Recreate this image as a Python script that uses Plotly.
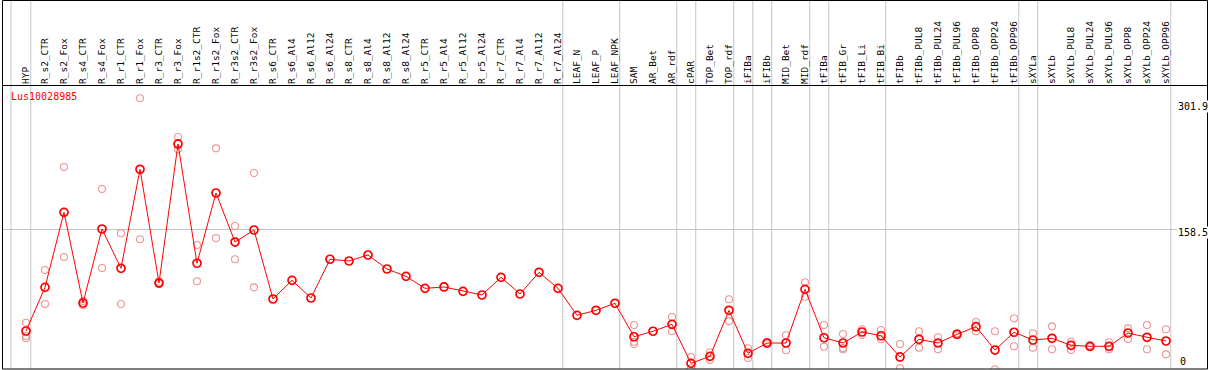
import plotly.graph_objects as go

categories = [
    "HYP", "R_s2_CTR", "R_s2_Fox", "R_s4_CTR", "R_s4_Fox", "R_r1_CTR", "R_r1_Fox",
    "R_r3_CTR", "R_r3_Fox", "R_r1s2_CTR", "R_r1s2_Fox", "R_r3s2_CTR", "R_r3s2_Fox",
    "R_s6_CTR", "R_s6_Al4", "R_s6_Al12", "R_s6_Al24", "R_s8_CTR", "R_s8_Al4",
    "R_s8_Al12", "R_s8_Al24", "R_r5_CTR", "R_r5_Al4", "R_r5_Al12", "R_r5_Al24",
    "R_r7_CTR", "R_r7_Al4", "R_r7_Al12", "R_r7_Al24", "LEAF_N", "LEAF_P", "LEAF_NPK",
    "SAM", "AR_Bet", "AR_rdf", "cPAR", "TOP_Bet", "TOP_rdf", "iFIBa", "iFIBb",
    "MID_Bet", "MID_rdf", "tFIBa", "tFIB_Gr", "tFIB_Li", "tFIB_Bi", "tFIBb",
    "tFIBb_PUL8", "tFIBb_PUL24", "tFIBb_PUL96", "tFIBb_OPP8", "tFIBb_OPP24",
    "tFIBb_OPP96", "sXYLa", "sXYLb", "sXYLb_PUL8", "sXYLb_PUL24", "sXYLb_PUL96",
    "sXYLb_OPP8", "sXYLb_OPP24", "sXYLb_OPP96",
]

mean_values = [
    46.6, 94.5, 176.8, 77.3, 158.5, 115.4, 224.0, 99.3, 251.8, 120.9, 198.0, 144.2, 157.4,
    81.7, 102.2, 82.8, 125.3, 123.4, 130.0, 114.6, 106.6, 93.4, 94.9, 90.1, 86.1,
    105.5, 87.2, 111.0, 93.4, 63.8, 69.3, 77.0,
    40.3, 46.3, 53.9, 11.1, 18.8, 69.3, 22.1, 33.4, 33.4, 92.3, 39.2, 33.4, 45.5, 41.4,
    18.1, 37.5, 33.4, 43.0, 51.3, 25.7, 45.2, 36.7, 38.6, 30.9, 29.8, 29.8, 44.4, 39.7, 35.6,
]

replicate_values = [
    [55.7, 41.1, 38.6], [113.5, 76.2], [226.5, 127.8], [79.5, 75.1], [202.4, 115.7],
    [153.8, 76.2], [301.9, 147.2], [100.5, 98.1], [259.4, 245.9], [141.0, 101.1],
    [247.0, 148.6], [161.8, 125.3], [219.9, 94.5],
    [], [], [], [], [], [], [], [], [], [], [], [], [], [], [], [], [], [], [],
    [53.2, 34.8, 32.3], [], [62.0, 46.3], [18.1, 5.7], [23.2, 14.8], [81.4, 57.2],
    [27.6, 17.0], [34.5, 32.3], [41.9, 25.4], [100.0, 84.2], [53.2, 29.4],
    [43.3, 28.0, 26.5], [48.5, 42.2], [47.7, 37.5], [32.3, 5.7], [46.3, 28.3],
    [39.7, 26.5], [44.0, 42.0], [56.5, 46.3], [46.3, 4.6], [60.5, 29.8], [44.1, 28.3],
    [51.7, 26.5], [34.8, 25.7], [30.8, 28.8], [34.2, 26.5], [49.5, 37.8], [53.2, 26.5],
    [48.5, 21.0],
]

group_ends = ["HYP", "R_r7_Al24", "LEAF_NPK", "AR_rdf", "cPAR", "TOP_rdf", "iFIBa",
              "iFIBb", "MID_rdf", "tFIBa", "tFIB_Bi", "tFIBb_OPP96", "sXYLa", "sXYLb_OPP96"]

gene_name = "Lus10028985"
axis_labels = ["301.9", "158.5", "0"]
mid_value = 158.5

W, H = 1209, 370
ML, MR, MT, MB = 3, 2, 86, 1
PW, PH = W - ML - MR, H - MT - MB


def px_x(p):
    return (p - ML) / PW


def px_y(p):
    return (H - MB - p) / PH


rep_x, rep_y = [], []
for c, reps in zip(categories, replicate_values):
    for v in reps:
        rep_x.append(c)
        rep_y.append(v)

fig = go.Figure()
fig.add_trace(go.Scatter(
    x=rep_x, y=rep_y, mode="markers",
    marker=dict(symbol="circle-open", size=7, color="#EE9494", line=dict(width=1.1)),
    hoverinfo="x+y",
))
fig.add_trace(go.Scatter(
    x=categories, y=mean_values, mode="lines+markers",
    line=dict(color="#FF0000", width=1),
    marker=dict(symbol="circle-open", size=8, color="#FF0000", line=dict(width=1.7)),
    hoverinfo="x+y",
))

shapes = []
# vertical grid lines
xs = [-0.79] + [categories.index(g) + 0.25 for g in group_ends]
for xv in xs:
    shapes.append(dict(type="line", xref="x", yref="paper", x0=xv, x1=xv, y0=0, y1=px_y(0),
                       line=dict(color="#C4C4C4", width=1), layer="below"))
# frame
shapes.append(dict(type="rect", xref="paper", yref="paper",
                   x0=px_x(2.5), x1=px_x(1207.5), y0=px_y(369), y1=px_y(0.5),
                   line=dict(color="black", width=1)))
shapes.append(dict(type="line", xref="paper", yref="paper",
                   x0=px_x(2.5), x1=px_x(1207.5), y0=px_y(85.5), y1=px_y(85.5),
                   line=dict(color="black", width=1)))

font_mono = "DejaVu Sans Mono"
annotations = [
    dict(text=gene_name, xref="paper", yref="paper", x=px_x(9), y=px_y(96.5),
         xanchor="left", yanchor="middle", showarrow=False,
         font=dict(family=font_mono, size=10, color="#FF0000")),
    dict(text=axis_labels[0], xref="paper", yref="paper", x=px_x(1176.5), y=px_y(106.5),
         xanchor="left", yanchor="middle", showarrow=False, bgcolor="white",
         font=dict(family=font_mono, size=10, color="black"), borderpad=0),
    dict(text=axis_labels[1], xref="paper", yref="paper", x=px_x(1176.5), y=px_y(232),
         xanchor="left", yanchor="middle", showarrow=False, bgcolor="white",
         font=dict(family=font_mono, size=10, color="black"), borderpad=0),
    dict(text=axis_labels[2], xref="paper", yref="paper", x=px_x(1178.5), y=px_y(361.5),
         xanchor="left", yanchor="middle", showarrow=False,
         font=dict(family=font_mono, size=10, color="black"), borderpad=0),
]

fig.update_layout(
    width=W, height=H,
    margin=dict(l=ML, r=MR, t=MT, b=MB, pad=0),
    paper_bgcolor="white", plot_bgcolor="white",
    showlegend=False,
    shapes=shapes, annotations=annotations,
    xaxis=dict(type="category", categoryorder="array", categoryarray=categories,
               range=[(ML - 26) / 19, (W - MR - 26) / 19],
               side="top", tickangle=-90, ticks="", showgrid=False, zeroline=False,
               showline=False, ticklabelstandoff=1,
               tickfont=dict(family=font_mono, size=9.5, color="black")),
    yaxis=dict(range=[4.9, 315.4], tickvals=[mid_value], showticklabels=False,
               showgrid=True, gridcolor="#C4C4C4", gridwidth=1, zeroline=False,
               showline=False, ticks=""),
)

fig.write_html(
    "out.html",
    config={"displayModeBar": False},
    post_script="document.body.style.margin='0';document.body.style.padding='0';"
                "document.body.style.overflow='hidden';",
)
